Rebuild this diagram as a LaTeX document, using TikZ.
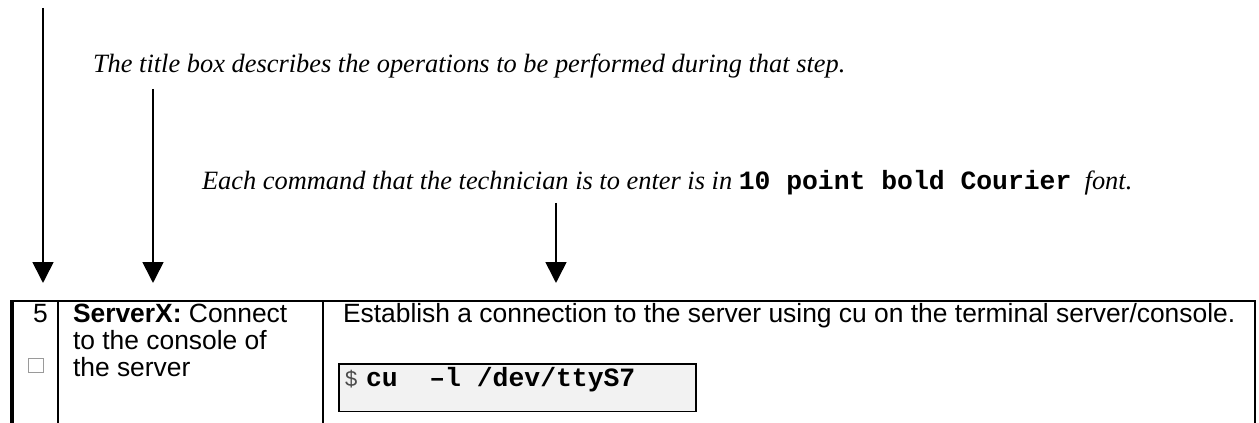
\documentclass[tikz,border=0pt]{standalone}
\usepackage{fontspec}
\setmainfont{Liberation Sans}
\newfontfamily\serfont{Liberation Serif}
\newfontfamily\courfont{Liberation Mono}
\usetikzlibrary{arrows.meta}
\definecolor{cmdfill}{HTML}{F2F2F2}
\definecolor{boxgray}{HTML}{9A9A9A}
\tikzset{
  pointer/.style={line width=0.77pt, -{Triangle[width=9.5pt,length=9.5pt]}},
  rule/.style={line width=0.7pt},
  lbl/.style={anchor=base west, inner sep=0pt, outer sep=0pt},
  note/.style={lbl, font=\serfont\itshape\fontsize{12}{14}\selectfont},
  cell/.style={lbl, font=\fontsize{12}{12.27}\selectfont},
  cour/.style={font=\courfont\bfseries\upshape\fontsize{12}{14}\selectfont},
  cmdbox/.style={draw, fill=cmdfill, line width=0.7pt, inner sep=0pt, anchor=north west},
  chkbox/.style={draw=boxgray, line width=0.45pt, inner sep=0pt, minimum width=6.4pt, minimum height=6.4pt}
}
\begin{document}
\begin{tikzpicture}[x=0.4545pt,y=-0.4545pt]
\useasboundingbox (0,0) rectangle (1259,423);
% explanatory notes
\node[note] (t1) at (93,73) {The title box describes the operations to be performed during that step.};
\node[note] (t2) at (202,190) {Each command that the technician is to enter is in {\courfont\bfseries\upshape\fontsize{12}{14}\selectfont 10 point bold Courier}\ \ font.};
% arrow end points
\coordinate (a1s) at (43,8);   \coordinate (a1e) at (43,283);
\coordinate (a2s) at (153,89); \coordinate (a2e) at (153,283);
\coordinate (a3s) at (556,203); \coordinate (a3e) at (556,283);
\draw[pointer] (a1s) -- (a1e);
\draw[pointer] (a2s) -- (a2e);
\draw[pointer] (a3s) -- (a3e);
% table rules
\draw[line width=0.9pt] (10,301) -- (1256,301);
\draw[line width=1.8pt] (12,300.5) -- (12,423);
\draw[rule] (58,301) -- (58,423);
\draw[rule] (323,301) -- (323,423);
\draw[rule] (1255,301) -- (1255,423);
% cells
\node[cell] (num) at (33,323) {5};
\node[chkbox] (chk) at (36,365.5) {};
\node[cell] (title1) at (73,323) {\textbf{ServerX:} Connect};
\node[cell] (title2) at (73,350) {to the console of};
\node[cell] (title3) at (73,377) {the server};
\node[cell] (desc) at (343,323) {Establish a connection to the server using cu on the terminal server/console.};
\node[cmdbox, minimum width=162.3pt, minimum height=21.8pt] (cmd) at (338,363) {};
\node[lbl, font=\fontsize{10}{12}\selectfont, text=black!70] (dollar) at (345,387) {\$};
\node[lbl, cour] (cmdtxt) at (366,387) {cu\ \ –l\ /dev/ttyS7};
\end{tikzpicture}
\end{document}
